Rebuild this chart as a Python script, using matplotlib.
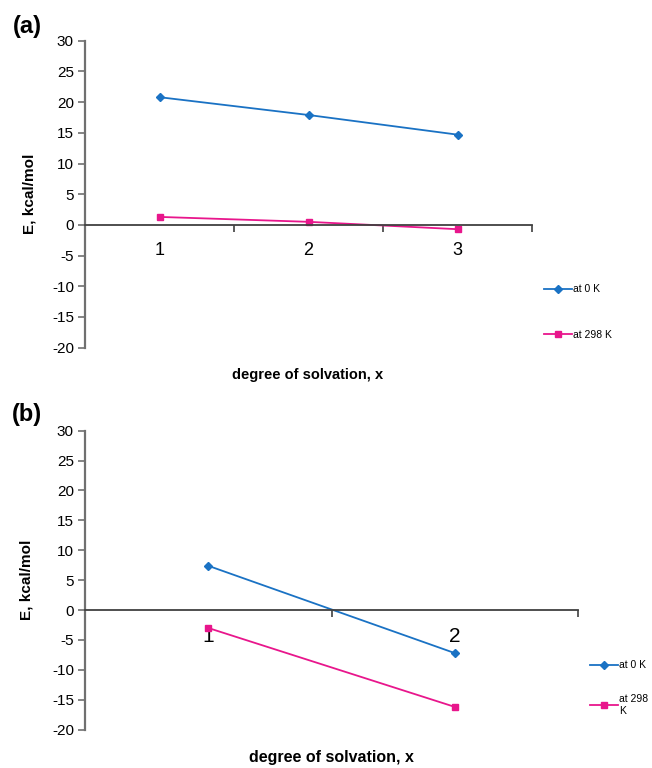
import matplotlib
matplotlib.use("Agg")
import matplotlib.pyplot as plt

plt.rcParams['font.family'] = ['Liberation Sans', 'DejaVu Sans']
plt.rcParams['axes.unicode_minus'] = False

# panel (a)
xa = [1, 2, 3]
a_0K = [20.8, 17.9, 14.7]
a_298K = [1.3, 0.5, -0.7]

# panel (b)
xb = [1, 2]
b_0K = [7.4, -7.2]
b_298K = [-3.0, -16.2]

yticks = list(range(-20, 31, 5))
blue = '#1a72c4'
pink = '#e8168c'
spine_c = '#404040'

fig = plt.figure(figsize=(6.52, 7.68), dpi=100)


def panel(ax, x, y0, y1, lab1, labpad):
    n = len(x)
    ax.plot(x, y0, color=blue, lw=1.3, marker='D', ms=4, label='at 0 K')
    ax.plot(x, y1, color=pink, lw=1.3, marker='s', ms=5, label=lab1)
    ax.set_xlim(0.5, n + 0.5)
    ax.set_ylim(-20, 30)
    for s in ['top', 'right']:
        ax.spines[s].set_visible(False)
    ax.spines['bottom'].set_position(('data', 0))
    ax.spines['bottom'].set_color(spine_c)
    ax.spines['left'].set_color('#707070')
    ax.spines['left'].set_linewidth(1.6)
    ax.spines['bottom'].set_linewidth(1.3)
    ax.set_yticks(yticks)
    ax.tick_params(axis='y', direction='out', length=5, width=1.2,
                   color='#707070', labelsize=11, pad=3)
    # category boundaries as ticks, labels at the centres
    ax.set_xticks([i + 0.5 for i in range(n + 1)])
    ax.set_xticklabels([])
    ax.tick_params(axis='x', which='major', direction='out', length=5,
                   width=1.2, color=spine_c)
    ax.set_xticks(x, minor=True)
    ax.set_xticklabels([str(v) for v in x], minor=True)
    ax.tick_params(axis='x', which='minor', length=0, labelsize=labpad[0],
                   pad=labpad[1])
    ax.set_ylabel('E, kcal/mol', fontsize=11, fontweight='bold')


# (a)
ax1 = fig.add_axes([85 / 652, 1 - 347.7 / 768, 447 / 652, 307 / 768])
panel(ax1, xa, a_0K, a_298K, 'at 298 K', (13, 12.5))
ax1.yaxis.set_label_coords(-0.108, 0.5)
ax1.set_xlabel('degree of solvation, x', fontsize=10.5, fontweight='bold')
ax1.xaxis.set_label_coords((308 - 85) / 447, (347.7 - 368) / 307)
ax1.legend(loc='center left', bbox_to_anchor=(544 / 652, 1 - 312 / 768),
           bbox_transform=fig.transFigure, frameon=False, fontsize=7.5,
           handlelength=2.7, handletextpad=0.1, labelspacing=3.4,
           borderpad=0, borderaxespad=0, markerscale=0.9)
fig.text(27 / 652, 1 - 27 / 768, '(a)', fontsize=17, fontweight='bold',
         ha='center', va='center')

# (b)
ax2 = fig.add_axes([85 / 652, 1 - 729.6 / 768, 493 / 652, 298.9 / 768])
panel(ax2, xb, b_0K, b_298K, 'at 298\nK', (15, 12.5))
ax2.yaxis.set_label_coords(-0.105, 0.5)
ax2.set_xlabel('degree of solvation, x', fontsize=11.5, fontweight='bold')
ax2.xaxis.set_label_coords(0.5, (729.6 - 750) / 298.9)
ax2.legend(loc='center left', bbox_to_anchor=(590 / 652, 1 - 688 / 768),
           bbox_transform=fig.transFigure, frameon=False, fontsize=7.5,
           handlelength=2.7, handletextpad=0.1, labelspacing=2.3,
           borderpad=0, borderaxespad=0, markerscale=0.9)
fig.text(27 / 652, 1 - 415 / 768, '(b)', fontsize=17, fontweight='bold',
         ha='center', va='center')

fig.savefig('out.png', dpi=100)
